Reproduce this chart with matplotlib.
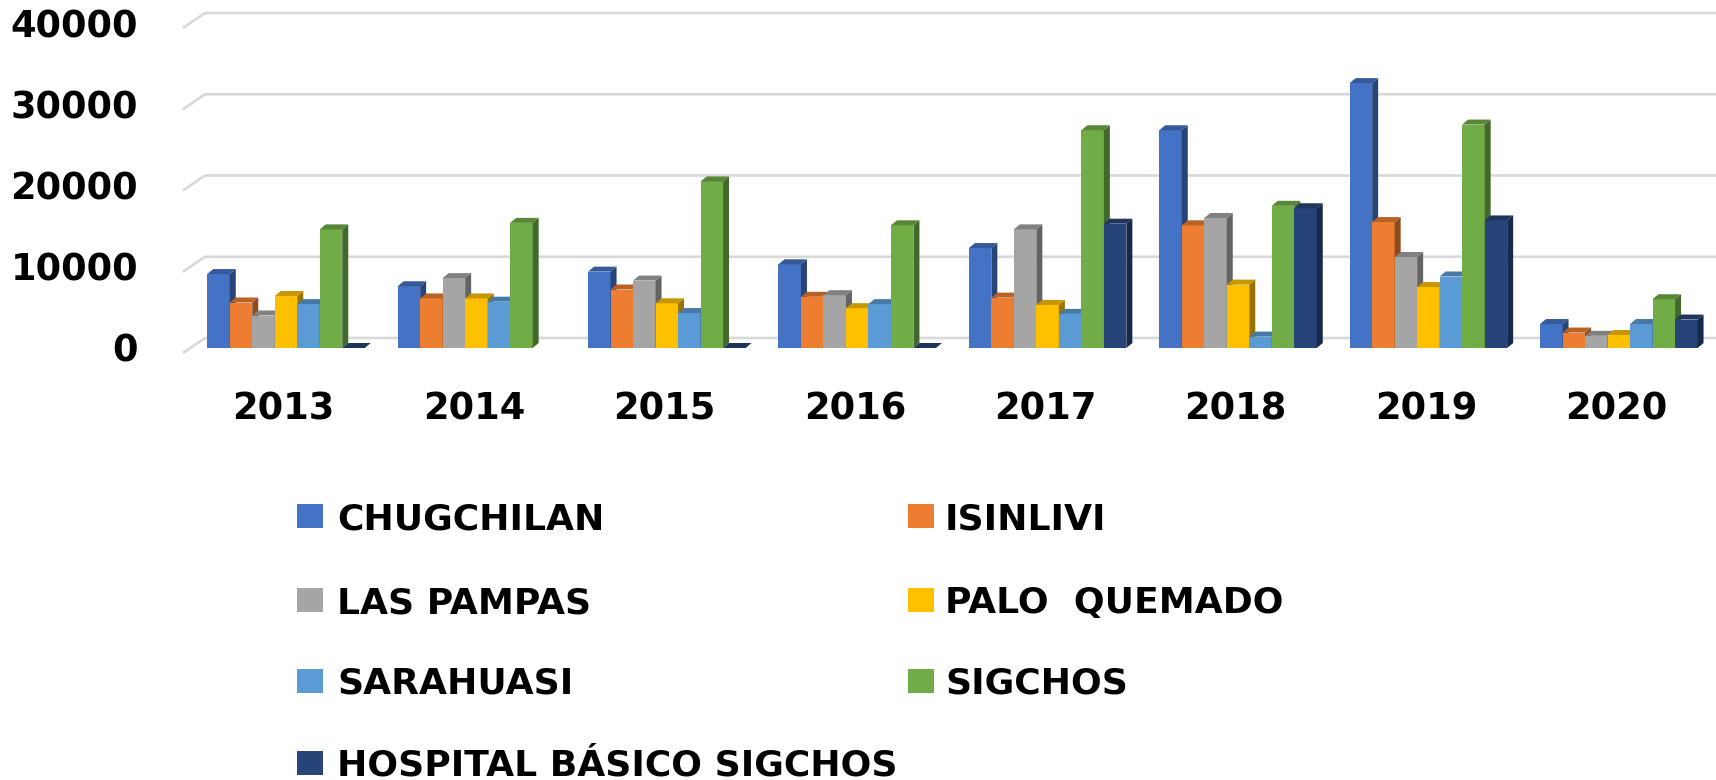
import numpy as np
import matplotlib
matplotlib.use('Agg')
import matplotlib.pyplot as plt
from matplotlib.patches import Polygon, Rectangle
from matplotlib.colors import to_rgb

# ---------------- data ----------------
years = ['2013', '2014', '2015', '2016', '2017', '2018', '2019', '2020']
series_names = ['CHUGCHILAN', 'ISINLIVI', 'LAS PAMPAS', 'PALO  QUEMADO',
                'SARAHUASI', 'SIGCHOS', 'HOSPITAL BÁSICO SIGCHOS']
chugchilan = [9100, 7600, 9400, 10300, 12300, 26800, 32600, 2950]
isinlivi = [5600, 6100, 7200, 6300, 6200, 15100, 15500, 1900]
las_pampas = [4000, 8600, 8300, 6500, 14600, 16000, 11200, 1500]
palo_quemado = [6400, 6100, 5500, 4900, 5300, 7800, 7500, 1600]
sarahuasi = [5400, 5700, 4300, 5400, 4200, 1400, 8800, 2950]
sigchos = [14600, 15400, 20500, 15100, 26800, 17500, 27500, 6000]
hospital = [0, np.nan, 0, 0, 15300, 17200, 15700, 3500]
yticks = [0, 10000, 20000, 30000, 40000]

series = [chugchilan, isinlivi, las_pampas, palo_quemado, sarahuasi, sigchos, hospital]
colors = ['#4472C4', '#ED7D31', '#A5A5A5', '#FFC000', '#5B9BD5', '#70AD47', '#264478']

# ---------------- layout (pixels) ----------------
W, H = 1716, 780
AX_BOTTOM_PX = 440
X0_PX, PX_PER_X = 286.0, 190.4
Y0_PX, U = 348.0, 123.08          # data units per pixel vertically
BAR_PX = 22.5
DX_PX, DY_PX = 6.0, 5.0

def px2x(px):
    return (px - X0_PX) / PX_PER_X

fig = plt.figure(figsize=(W / 100, H / 100), dpi=100)
ax = fig.add_axes([0, 1 - AX_BOTTOM_PX / H, 1, AX_BOTTOM_PX / H])
ax.set_xlim(px2x(0), px2x(W))
ax.set_ylim(-(AX_BOTTOM_PX - Y0_PX) * U, Y0_PX * U)
ax.axis('off')

# gridlines on back wall with slanted side-wall segment
for t in yticks:
    back = t + 10 * U
    front = t - 5 * U
    ax.plot([px2x(183), px2x(205), px2x(W)], [front, back, back],
            color='#D9D9D9', lw=1.9, zorder=1, solid_capstyle='butt')
    ax.text(px2x(138), t - 14 * U, f'{t}', ha='right', va='baseline',
            fontsize=26.5, fontweight='bold', color='black')

bw = BAR_PX / PX_PER_X
ddx = DX_PX / PX_PER_X
ddy = DY_PX * U
xs = np.arange(len(years))

def shade(c, f):
    r, g, b = to_rgb(c)
    return (r * f, g * f, b * f)

for i, (vals, c) in enumerate(zip(series, colors)):
    z = 3 + i
    xpos = xs + (i - 3) * bw
    vals = np.array(vals, dtype=float)
    m = ~np.isnan(vals)
    ax.bar(xpos[m], vals[m], width=bw, color=c, linewidth=0, zorder=z)
    for x, v in zip(xpos[m], vals[m]):
        x0 = x - bw / 2
        top = Polygon([(x0, v), (x0 + bw, v), (x0 + bw + ddx, v + ddy), (x0 + ddx, v + ddy)],
                      closed=True, facecolor=shade(c, 0.78), edgecolor='none', zorder=z)
        side = Polygon([(x0 + bw, 0), (x0 + bw, v), (x0 + bw + ddx, v + ddy), (x0 + bw + ddx, ddy)],
                       closed=True, facecolor=shade(c, 0.6), edgecolor='none', zorder=z)
        ax.add_patch(side)
        ax.add_patch(top)

for k, y in enumerate(years):
    ax.text(k - 0.012, -72 * U, y, ha='center', va='baseline',
            fontsize=26.5, fontweight='bold', color='black')

# ---------------- legend (pixel overlay) ----------------
lax = fig.add_axes([0, 0, 1, 1])
lax.set_xlim(0, W)
lax.set_ylim(H, 0)
lax.axis('off')
row_y = [516, 600, 681, 763]
col_marker_x = [297, 908]
col_text_x = [337, 945]
for j, (name, c) in enumerate(zip(series_names, colors)):
    r, col = divmod(j, 2)
    cy = row_y[r]
    lax.add_patch(Rectangle((col_marker_x[col], cy - 12), 26, 24, facecolor=c, edgecolor='none'))
    lax.text(col_text_x[col], cy + 13, name, ha='left', va='baseline',
             fontsize=26, fontweight='bold', color='black')

fig.savefig('out.png', dpi=100)
